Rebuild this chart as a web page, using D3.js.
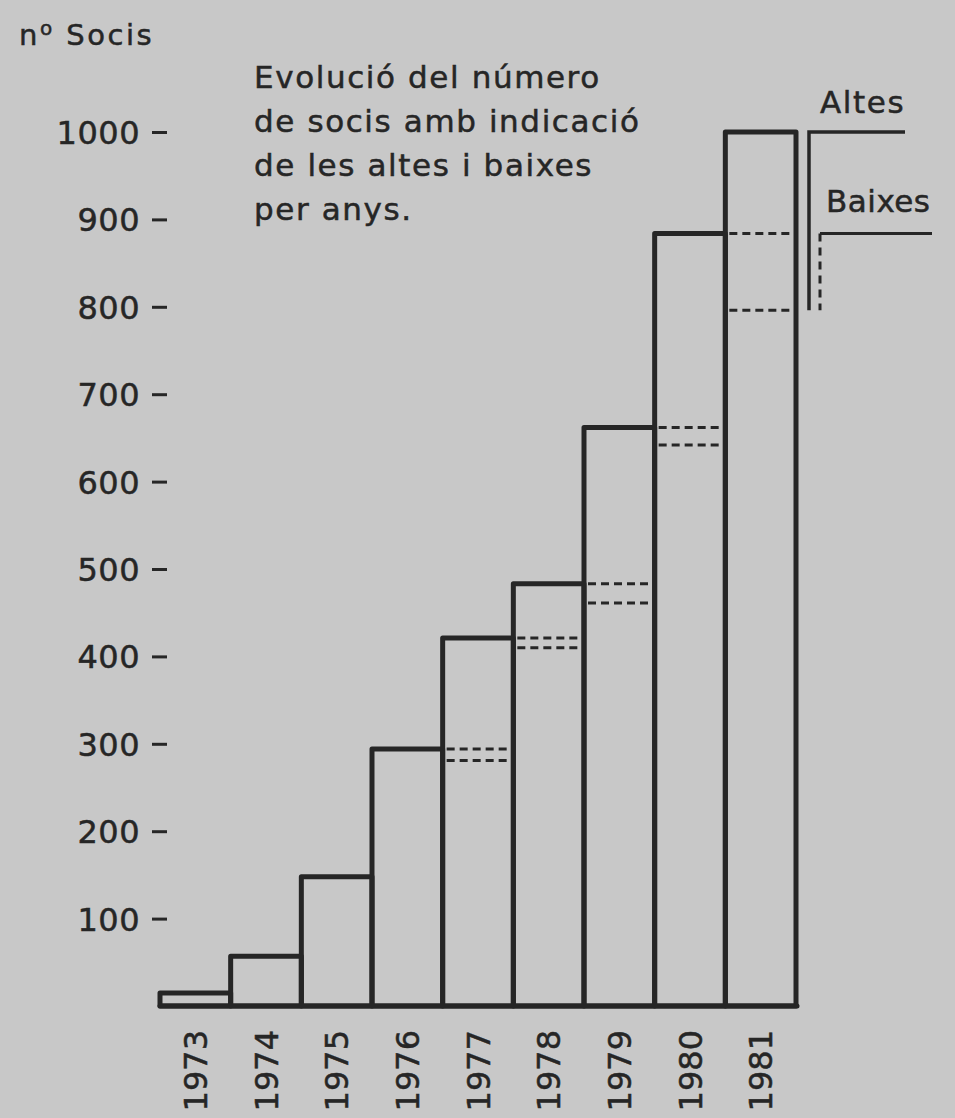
<!DOCTYPE html>
<html>
<head>
<meta charset="utf-8">
<script src="https://cdn.jsdelivr.net/npm/d3@7"></script>
<style>
  body { margin: 0; background: #c8c8c8; }
  svg { display: block; }
  text { font-family: "DejaVu Sans", sans-serif; fill: #262626; stroke: #262626; stroke-width: 0.5px; }
</style>
</head>
<body>
<div id="chart"></div>
<script>
// dades llegides del gràfic
var anys = ["1973", "1974", "1975", "1976", "1977", "1978", "1979", "1980", "1981"];
var socis = [15, 57, 148, 294, 421, 483, 662, 884, 1000];
var baixes = [0, 0, 0, 0, 13, 11, 22, 20, 88];
var yTicks = [100, 200, 300, 400, 500, 600, 700, 800, 900, 1000];
var titol = ["Evolució del número", "de socis amb indicació", "de les altes i baixes", "per anys."];

var W = 955, H = 1118;
var ink = "#262626";

var svg = d3.select("#chart").append("svg")
    .attr("width", W)
    .attr("height", H);

svg.append("rect").attr("width", W).attr("height", H).attr("fill", "#c8c8c8");

var x = d3.scaleBand().domain(anys).range([160, 796]).padding(0);
var y = d3.scaleLinear().domain([0, 1000]).range([1006, 132]);

// eix vertical: etiquetes amb guionet
var yAxis = svg.append("g")
    .attr("transform", "translate(167,0)")
    .call(d3.axisLeft(y).tickValues(yTicks).tickFormat(d3.format("d")).tickSize(15).tickPadding(12));
yAxis.select(".domain").remove();
yAxis.selectAll(".tick line").attr("stroke", ink).attr("stroke-width", 3);
yAxis.selectAll(".tick text")
    .attr("fill", ink)
    .style("font-family", "DejaVu Sans")
    .style("font-size", "32px")
    .style("letter-spacing", "0.5px")
    .attr("dy", "0.36em");

// títol de l'eix
var yt = svg.append("text").attr("x", 19).attr("y", 45)
    .style("font-size", "29px").style("letter-spacing", "2.5px");
yt.append("tspan").text("n");
yt.append("tspan").attr("dy", -10).style("font-size", "20px").text("o");
yt.append("tspan").attr("dy", 10).text(" Socis");

// títol
svg.append("g").selectAll("text")
    .data(titol)
    .enter().append("text")
    .attr("x", 254)
    .attr("y", function(d, i) { return 88 + i * 44; })
    .style("font-size", "31px")
    .style("letter-spacing", "1.6px")
    .text(function(d) { return d; });

// barres
svg.append("g").selectAll("rect")
    .data(socis)
    .enter().append("rect")
    .attr("x", function(d, i) { return x(anys[i]); })
    .attr("y", function(d) { return y(d); })
    .attr("width", x.bandwidth())
    .attr("height", function(d) { return y(0) - y(d); })
    .attr("fill", "none")
    .attr("stroke", ink)
    .attr("stroke-width", 5)
    .attr("stroke-linejoin", "round");

// línies de baixes (nivell anterior i nivell anterior - baixes)
var dashes = [];
for (var i = 1; i < anys.length; i++) {
  if (baixes[i] > 0) {
    dashes.push({ any: anys[i], v: socis[i - 1] });
    dashes.push({ any: anys[i], v: socis[i - 1] - baixes[i] });
  }
}
svg.append("g").selectAll("line")
    .data(dashes)
    .enter().append("line")
    .attr("x1", function(d) { return x(d.any) + 4; })
    .attr("x2", function(d) { return x(d.any) + x.bandwidth() - 3; })
    .attr("y1", function(d) { return y(d.v); })
    .attr("y2", function(d) { return y(d.v); })
    .attr("stroke", ink)
    .attr("stroke-width", 3)
    .attr("stroke-dasharray", "8,5");

// eix horitzontal
svg.append("line")
    .attr("x1", 160).attr("x2", 797)
    .attr("y1", y(0)).attr("y2", y(0))
    .attr("stroke", ink).attr("stroke-width", 5).attr("stroke-linecap", "round");

var xAxis = svg.append("g")
    .attr("transform", "translate(0,1030)")
    .call(d3.axisBottom(x).tickSize(0).tickPadding(0));
xAxis.select(".domain").remove();
xAxis.selectAll(".tick text")
    .attr("fill", ink)
    .attr("y", 0)
    .attr("dy", "0.36em")
    .attr("transform", "rotate(-90)")
    .attr("text-anchor", "end")
    .style("font-family", "DejaVu Sans")
    .style("font-size", "32px");

// llegenda: altes i baixes de 1981
var last = anys.length - 1;
var lg = svg.append("g");
lg.append("text").attr("x", 820).attr("y", 113).style("font-size", "31px").style("letter-spacing", "1.6px").text("Altes");
lg.append("path")
    .attr("d", "M905," + y(socis[last]) + "H809V" + y(socis[last - 1] - baixes[last]))
    .attr("fill", "none").attr("stroke", ink).attr("stroke-width", 3.5);
lg.append("text").attr("x", 826).attr("y", 212).style("font-size", "31px").style("letter-spacing", "0.5px").text("Baixes");
lg.append("line")
    .attr("x1", 820).attr("x2", 932)
    .attr("y1", y(socis[last - 1])).attr("y2", y(socis[last - 1]))
    .attr("stroke", ink).attr("stroke-width", 3);
lg.append("line")
    .attr("x1", 820).attr("x2", 820)
    .attr("y1", y(socis[last - 1])).attr("y2", y(socis[last - 1] - baixes[last]))
    .attr("stroke", ink).attr("stroke-width", 3)
    .attr("stroke-dasharray", "8,6");
</script>
</body>
</html>
